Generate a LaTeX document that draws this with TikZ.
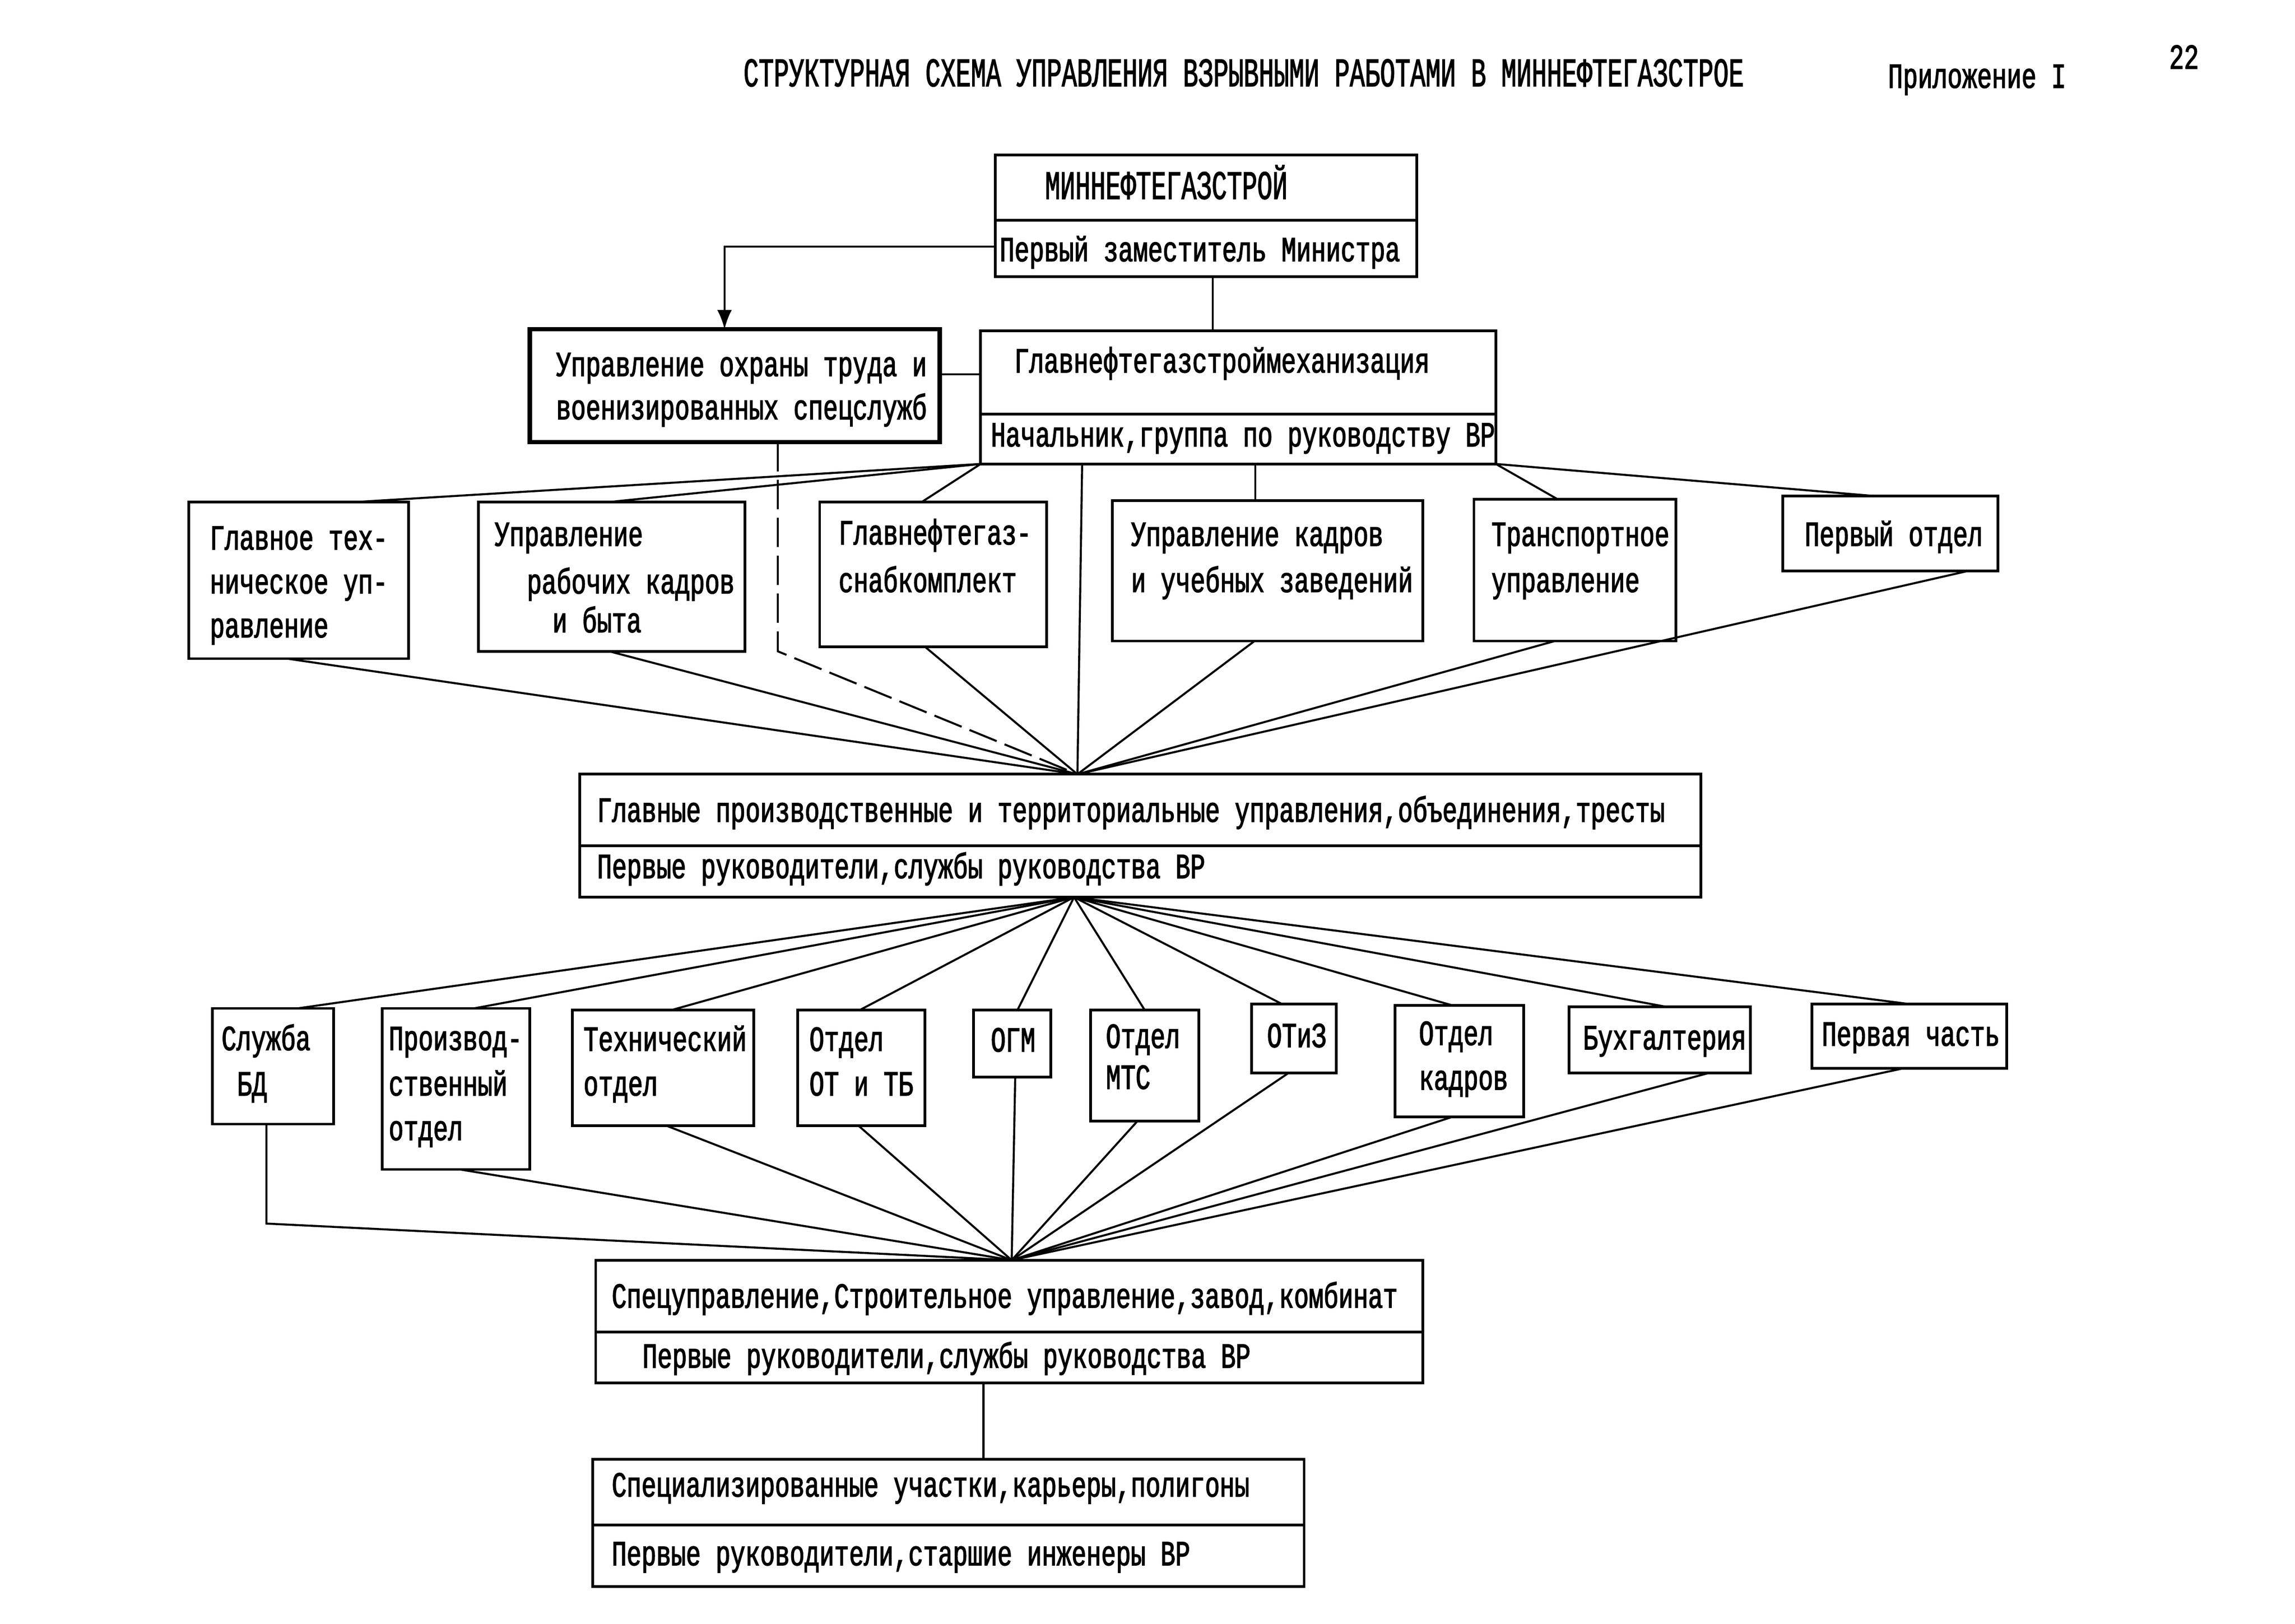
\documentclass[tikz,border=0pt]{standalone}
\usepackage{fontspec}
\setmainfont{Liberation Serif}
\newfontfamily\tw[FakeStretch=0.70,FakeBold=2]{Liberation Mono}
\newfontfamily\twt[FakeStretch=0.62,FakeBold=1.6]{Liberation Mono}
\usetikzlibrary{calc,fit,arrows.meta}
\newlength\un
\setlength\un{0.18941mm}
\tikzset{
  boxst/.style={draw, line width=1pt, inner sep=0pt, outer sep=0pt},
  heavybox/.style={boxst, line width=1.6pt},
  divider/.style={line width=1pt},
  txt/.style={inner sep=0pt, outer sep=0pt, anchor=base west, font=\tw\fontsize{13}{15}\selectfont},
  ttl/.style={txt, font=\twt\fontsize{15}{17}\selectfont},
  conn/.style={line width=0.75pt},
  dashconn/.style={conn, dash pattern=on 3.8mm off 1.1mm},
}
\begin{document}
\begin{tikzpicture}[x=\un,y=-\un]
\fill[white] (0,0) rectangle (1568,1109.3);
\useasboundingbox (0,0) rectangle (1568,1109.3);

% ---------- headings
\node[ttl] (title) at (508,59) {СТРУКТУРНАЯ СХЕМА УПРАВЛЕНИЯ ВЗРЫВНЫМИ РАБОТАМИ В МИННЕФТЕГАЗСТРОЕ};
\node[txt] (app) at (1290,60) {Приложение I};
\node[txt] (pg) at (1482,47) {22};

% ---------- top level
\node[boxst, fit={(680,106) (968,189)}] (min) {};
\draw[divider] (min.west |- 0,150.5) -- (min.east |- 0,150.5);
\node[ttl] (min1) at (714,136) {МИННЕФТЕГАЗСТРОЙ};
\node[txt] (min2) at (683,178.5) {Первый заместитель Министра};

\node[heavybox, fit={(362,225) (642,302)}] (uot) {};
\node[txt] (uot1) at (380,257) {Управление охраны труда и};
\node[txt] (uot2) at (380,286.5) {военизированных спецслужб};

\node[boxst, fit={(670,226) (1022,317)}] (gm) {};
\draw[divider] (gm.west |- 0,283) -- (gm.east |- 0,283);
\node[txt] (gm1) at (693,254.5) {Главнефтегазстроймеханизация};
\node[txt] (gm2) at (677,305) {Начальник,группа по руководству ВР};

% ---------- row 2
\node[boxst, fit={(129,343) (279,450)}] (r2a) {};
\node[txt] (r2a1) at (143.4,375.5) {Главное тех-};
\node[txt] (r2a2) at (143.4,405.5) {ническое уп-};
\node[txt] (r2a3) at (143.4,435.5) {равление};

\node[boxst, fit={(327,343) (509,445)}] (r2b) {};
\node[txt] (r2b1) at (338,373) {Управление};
\node[txt] (r2b2) at (360,405.5) {рабочих кадров};
\node[txt] (r2b3) at (377.5,432) {и быта};

\node[boxst, fit={(560,343) (715,442)}] (r2c) {};
\node[txt] (r2c1) at (573,372) {Главнефтегаз-};
\node[txt] (r2c2) at (573,404.5) {снабкомплект};

\node[boxst, fit={(760,342) (972,438)}] (r2d) {};
\node[txt] (r2d1) at (772.8,373) {Управление кадров};
\node[txt] (r2d2) at (772.8,404.5) {и учебных заведений};

\node[boxst, fit={(1007,341) (1145,438)}] (r2e) {};
\node[txt] (r2e1) at (1019,373) {Транспортное};
\node[txt] (r2e2) at (1019,404.5) {управление};

\node[boxst, fit={(1218,339) (1365,390)}] (r2f) {};
\node[txt] (r2f1) at (1233,373) {Первый отдел};

% ---------- middle
\node[boxst, fit={(396,529) (1162,613)}] (mid) {};
\draw[divider] (mid.west |- 0,578) -- (mid.east |- 0,578);
\node[txt] (mid1) at (408,561.5) {Главные производственные и территориальные управления,объединения,тресты};
\node[txt] (mid2) at (408,600) {Первые руководители,службы руководства ВР};

% ---------- row 3
\node[boxst, fit={(145,689) (228,768)}] (r3a) {};
\node[txt] (r3a1) at (151.4,717.5) {Служба};
\node[txt] (r3a2) at (162,748.5) {БД};

\node[boxst, fit={(261,689) (362,799)}] (r3b) {};
\node[txt] (r3b1) at (265.6,717.5) {Производ-};
\node[txt] (r3b2) at (265.6,748.5) {ственный};
\node[txt] (r3b3) at (265.6,779) {отдел};

\node[boxst, fit={(391,690) (515,769)}] (r3c) {};
\node[txt] (r3c1) at (398.7,718) {Технический};
\node[txt] (r3c2) at (398.7,748.5) {отдел};

\node[boxst, fit={(545,690) (632,769)}] (r3d) {};
\node[txt] (r3d1) at (553,718) {Отдел};
\node[txt] (r3d2) at (553,748.5) {ОТ и ТБ};

\node[boxst, fit={(665,690) (718,736)}] (r3e) {};
\node[txt] (r3e1) at (677,718.5) {ОГМ};

\node[boxst, fit={(745,690) (819,766)}] (r3f) {};
\node[txt] (r3f1) at (755.6,716) {Отдел};
\node[txt] (r3f2) at (755.6,744) {МТС};

\node[boxst, fit={(855,686) (913,733)}] (r3g) {};
\node[txt] (r3g1) at (865.7,715.5) {ОТиЗ};

\node[boxst, fit={(953,687) (1041,763)}] (r3h) {};
\node[txt] (r3h1) at (969.5,714) {Отдел};
\node[txt] (r3h2) at (969.5,744.5) {кадров};

\node[boxst, fit={(1072,688) (1196,733)}] (r3i) {};
\node[txt] (r3i1) at (1081.6,717) {Бухгалтерия};

\node[boxst, fit={(1238,686) (1371,730)}] (r3j) {};
\node[txt] (r3j1) at (1244.7,714.5) {Первая часть};

% ---------- lower boxes
\node[boxst, fit={(407,861) (972,945)}] (spec) {};
\draw[divider] (spec.west |- 0,910) -- (spec.east |- 0,910);
\node[txt] (spec1) at (418,893.5) {Спецуправление,Строительное управление,завод,комбинат};
\node[txt] (spec2) at (439,934.5) {Первые руководители,службы руководства ВР};

\node[boxst, fit={(405,997) (891,1084)}] (spl) {};
\draw[divider] (spl.west |- 0,1042) -- (spl.east |- 0,1042);
\node[txt] (spl1) at (418,1022.5) {Специализированные участки,карьеры,полигоны};
\node[txt] (spl2) at (418,1069.5) {Первые руководители,старшие инженеры ВР};

% ---------- junction points
\coordinate (c1) at ($(mid.north west)!0.444!(mid.north east)$);
\coordinate (c2) at ($(mid.south west)!0.441!(mid.south east)$);
\coordinate (c3) at ($(spec.north west)!0.503!(spec.north east)$);

% ---------- connectors, top
\draw[conn,-{Latex[length=2.5mm,width=1.9mm]}] ($(min.south west)!0.246!(min.north west)$) -| ($(uot.north west)!0.475!(uot.north east)$);
\draw[conn] ($(min.south west)!0.516!(min.south east)$) coordinate (m1) -- (m1 |- gm.north);
\draw[conn] ($(uot.south east)!0.6!(uot.north east)$) coordinate (u1) -- (u1 -| gm.west);

\draw[conn] (gm.south west) -- ($(r2a.north west)!0.76!(r2a.north east)$);
\draw[conn] (gm.south west) -- ($(r2b.north west)!0.49!(r2b.north east)$);
\draw[conn] (gm.south west) -- ($(r2c.north west)!0.45!(r2c.north east)$);
\draw[conn] ($(gm.south west)!0.197!(gm.south east)$) -- (c1);
\draw[conn] ($(gm.south west)!0.533!(gm.south east)$) coordinate (g2) -- (g2 |- r2d.north);
\draw[conn] (gm.south east) -- ($(r2e.north west)!0.413!(r2e.north east)$);
\draw[conn] (gm.south east) -- ($(r2f.north west)!0.435!(r2f.north east)$);

\foreach \n/\f in {r2a/0.447, r2b/0.49, r2c/0.465, r2d/0.458, r2e/0.4, r2f/0.864}
  \draw[conn] ($(\n.south west)!\f!(\n.south east)$) -- (c1);
\draw[dashconn] ($(uot.south west)!0.605!(uot.south east)$) coordinate (u2) -- (u2 |- r2b.south) coordinate (u3) -- (c1);

% ---------- connectors, middle
\foreach \n/\f in {r3a/0.7, r3b/0.62, r3c/0.55, r3d/0.49, r3e/0.57, r3f/0.5, r3g/0.36, r3h/0.45, r3i/0.54, r3j/0.5}
  \draw[conn] (c2) -- ($(\n.north west)!\f!(\n.north east)$);
\foreach \n/\f in {r3b/0.525, r3c/0.516, r3d/0.476, r3e/0.54, r3f/0.434, r3g/0.44, r3h/0.45, r3i/0.774, r3j/0.467}
  \draw[conn] ($(\n.south west)!\f!(\n.south east)$) -- (c3);
\draw[conn] ($(r3a.south west)!0.446!(r3a.south east)$) coordinate (s1) -- ++(0,68) coordinate (s2) -- (c3);

% ---------- connector, bottom
\draw[conn] ($(spec.south west)!0.469!(spec.south east)$) coordinate (sp1) -- (sp1 |- spl.north);
\end{tikzpicture}
\end{document}
